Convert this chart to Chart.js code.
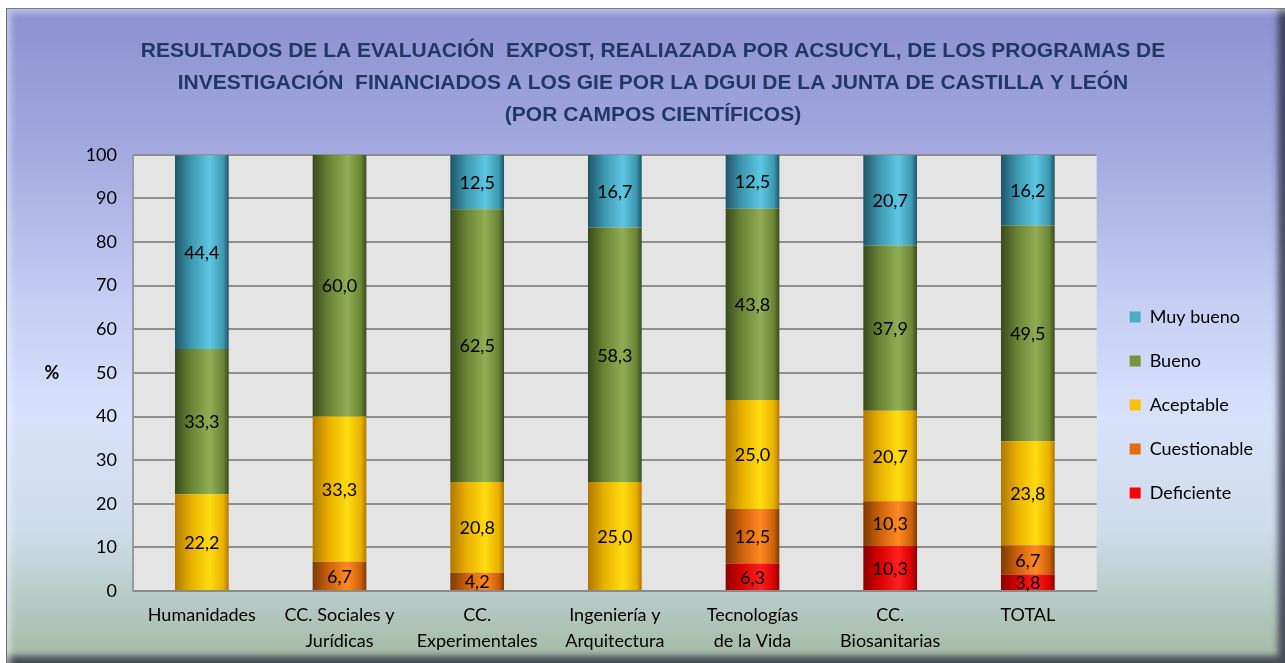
<!DOCTYPE html>
<html>
<head>
<meta charset="utf-8">
<script src="https://cdn.jsdelivr.net/npm/chart.js@4.4.1/dist/chart.umd.min.js"></script>
<style>
  html, body { margin: 0; padding: 0; background: #fff; }
  #frame {
    position: absolute; left: 6px; top: 8px; width: 1279px; height: 655px;
    box-sizing: border-box;
    border-top: 1px solid #77798f; border-left: 1px solid #6d6f80;
    background: linear-gradient(to bottom, #8c91cf 0%, #a4a9df 22%, #c6cef4 45%, #d8e1fb 62%, #cfdcea 80%, #b4c7c0 92%, #a3b8a3 100%);
    box-shadow: inset 9px 9px 6px -5px rgba(255,255,255,0.45), inset -11px -11px 6px -4px rgba(40,42,60,0.75);
  }
  #wrap { position: absolute; left: 0; top: 0; width: 1285px; height: 663px; }
</style>
</head>
<body>
<div id="frame"></div>
<div id="wrap"><canvas id="myChart" width="1285" height="663"></canvas></div>
<script>
var categories = [
  "Humanidades",
  ["CC. Sociales y", "Jurídicas"],
  ["CC.", "Experimentales"],
  ["Ingeniería y", "Arquitectura"],
  ["Tecnologías", "de la Vida"],
  ["CC.", "Biosanitarias"],
  "TOTAL"
];
var deficiente   = [0, 0, 0, 0, 6.3, 10.3, 3.8];
var cuestionable = [0, 6.7, 4.2, 0, 12.5, 10.3, 6.7];
var aceptable    = [22.2, 33.3, 20.8, 25.0, 25.0, 20.7, 23.8];
var bueno        = [33.3, 60.0, 62.5, 58.3, 43.8, 37.9, 49.5];
var muyBueno     = [44.4, 0, 12.5, 16.7, 12.5, 20.7, 16.2];
var yTicks = [0, 10, 20, 30, 40, 50, 60, 70, 80, 90, 100];

// colour sets: flat (legend), dark edge, highlight, right edge
var palettes = {
  "Deficiente":   ["#ff0000", "#8c0000", "#ff2020", "#d80000"],
  "Cuestionable": ["#e46c0a", "#7e3a04", "#ff8a22", "#cc6008"],
  "Aceptable":    ["#ffc000", "#b07800", "#ffdc10", "#e8b000"],
  "Bueno":        ["#77933c", "#3a4a1c", "#92ad55", "#6a8434"],
  "Muy bueno":    ["#4bacc6", "#1f5567", "#5ec6e2", "#3c98b0"]
};

function barFill(name) {
  return function(ctx) {
    var p = palettes[name];
    if (ctx.type !== 'data') return p[0];
    var chart = ctx.chart;
    var xs = chart.scales.x;
    if (!xs || !chart.chartArea) return p[0];
    var cx = xs.getPixelForValue(ctx.dataIndex);
    var w = (chart.chartArea.right - chart.chartArea.left) / categories.length * 0.39;
    var g = chart.ctx.createLinearGradient(cx - w / 2, 0, cx + w / 2, 0);
    g.addColorStop(0, p[1]);
    g.addColorStop(0.3, p[3]);
    g.addColorStop(0.65, p[2]);
    g.addColorStop(0.9, p[3]);
    g.addColorStop(1, p[1]);
    return g;
  };
}

function ds(name, values) {
  return {
    label: name,
    data: values,
    backgroundColor: barFill(name),
    borderWidth: 0,
    categoryPercentage: 1,
    barPercentage: 0.39
  };
}

var plotBg = {
  id: 'plotBg',
  beforeDraw: function(chart) {
    var a = chart.chartArea, c = chart.ctx;
    c.save();
    c.fillStyle = '#e4e4e4';
    c.fillRect(a.left, a.top, a.right - a.left, a.bottom - a.top);
    c.restore();
  }
};

var valueLabels = {
  id: 'valueLabels',
  afterDatasetsDraw: function(chart) {
    var c = chart.ctx;
    c.save();
    c.font = '18px Lato';
    c.fillStyle = '#000';
    c.textAlign = 'center';
    c.textBaseline = 'middle';
    chart.data.datasets.forEach(function(d, i) {
      chart.getDatasetMeta(i).data.forEach(function(bar, j) {
        var v = d.data[j];
        if (!v) return;
        var p = bar.getCenterPoint();
        c.fillText(v.toFixed(1).replace('.', ','), p.x, p.y + 1);
      });
    });
    // "%" axis label, upright
    var y = chart.scales.y;
    c.font = 'bold 18px Lato';
    c.fillText('%', y.left + 32, (y.top + y.bottom) / 2);
    c.restore();
  }
};

var nudge = {
  id: 'nudge',
  afterLayout: function(chart) {
    var l = chart.legend;
    l.left += 7; l.right += 7;
    l.top += 32; l.bottom += 32;
    var t = chart.titleBlock;
    t.left += 15; t.right += 15;
  }
};

var ctx = document.getElementById("myChart").getContext('2d');
var myChart = new Chart(ctx, {
  type: 'bar',
  plugins: [plotBg, valueLabels, nudge],
  data: {
    labels: categories,
    datasets: [
      ds("Deficiente", deficiente),
      ds("Cuestionable", cuestionable),
      ds("Aceptable", aceptable),
      ds("Bueno", bueno),
      ds("Muy bueno", muyBueno)
    ]
  },
  options: {
    responsive: false,
    animation: false,
    layout: { padding: { left: 20, right: 29, top: 0, bottom: 11 } },
    plugins: {
      tooltip: { enabled: false },
      title: {
        display: true,
        text: [
          "RESULTADOS DE LA EVALUACIÓN  EXPOST, REALIAZADA POR ACSUCYL, DE LOS PROGRAMAS DE",
          "INVESTIGACIÓN  FINANCIADOS A LOS GIE POR LA DGUI DE LA JUNTA DE CASTILLA Y LEÓN",
          "(POR CAMPOS CIENTÍFICOS)"
        ],
        color: '#1f3864',
        font: { family: "'Liberation Sans', sans-serif", size: 21, weight: 'bold', lineHeight: 1.52 },
        padding: { top: 35, bottom: 24 }
      },
      legend: {
        position: 'right',
        fullSize: false,
        reverse: true,
        labels: {
          boxWidth: 11,
          boxHeight: 11,
          padding: 26,
          color: '#000',
          font: { family: 'Lato', size: 18 },
          generateLabels: function(chart) {
            var items = Chart.defaults.plugins.legend.labels.generateLabels(chart);
            items.forEach(function(it) {
              it.fillStyle = palettes[it.text][0];
              it.strokeStyle = palettes[it.text][0];
              it.lineWidth = 0;
            });
            return items;
          }
        }
      }
    },
    scales: {
      x: {
        stacked: true,
        grid: { display: false },
        border: { display: true, color: '#8a8a8a', width: 2 },
        afterFit: function(scale) { scale.height = 61; },
        ticks: {
          color: '#000',
          font: { family: 'Lato', size: 18, lineHeight: 1.4 },
          padding: 4,
          maxRotation: 0,
          autoSkip: false
        }
      },
      y: {
        stacked: true,
        min: 0,
        max: 100,
        afterFit: function(scale) { scale.width = 113; },
        afterBuildTicks: function(scale) {
          scale.ticks = yTicks.map(function(v) { return { value: v }; });
        },
        grid: { color: '#8f8f8f', lineWidth: 2, drawTicks: false },
        border: { display: true, color: '#9a9a9a', width: 2 },
        ticks: {
          color: '#000',
          font: { family: 'Lato', size: 18 },
          padding: 16
        }
      }
    }
  }
});
</script>
</body>
</html>
